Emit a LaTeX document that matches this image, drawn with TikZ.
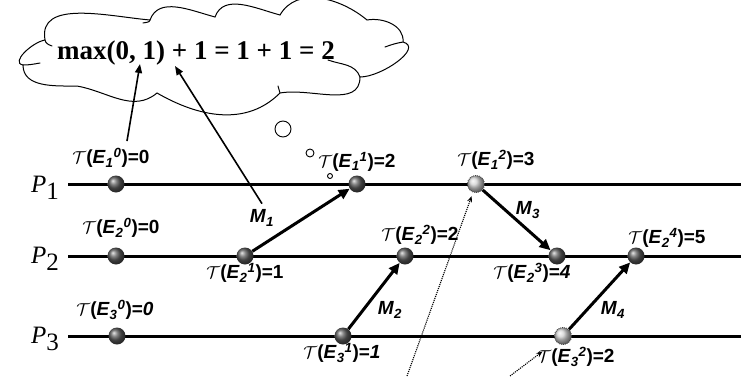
\documentclass[tikz,border=0pt]{standalone}
\usepackage{fontspec}
\setmainfont{Liberation Serif}
\newfontfamily\arialfont{Liberation Sans}
\usetikzlibrary{arrows.meta,positioning,calc}

\newcommand{\tstamp}[3]{$\mathcal{T}$(\textit{E}\textsubscript{\textit{#1}}\textsuperscript{\textit{#2}})=#3}
\newcommand{\procname}[1]{\textit{P}\raisebox{-7pt}{#1}}
\newcommand{\msgname}[1]{\textit{M}\textsubscript{\textit{#1}}}

\begin{document}
\begin{tikzpicture}[x=1pt, y=1pt,
  evt/.style={circle, inner sep=0pt, minimum size=17pt, ball color=gray!70!black},
  ghost/.style={circle, inner sep=0pt, minimum size=17pt, ball color=gray!35, draw=black!75, densely dotted, line width=0.9pt},
  proc/.style={line width=3pt},
  msg/.style={-{Triangle[length=11pt,width=10pt]}, line width=3pt},
  note/.style={-{Triangle[length=9pt,width=7pt]}, line width=1.6pt},
  hint/.style={-{Stealth[length=6pt,width=5pt]}, densely dotted, line width=1.1pt},
  lbl/.style={font=\fontsize{19}{19}\selectfont\arialfont\bfseries, inner sep=0pt},
  pname/.style={font=\fontsize{25}{25}\selectfont, inner sep=0pt},
  puff/.style={line width=1pt, line cap=round},
  bubble/.style={draw, circle, inner sep=0pt, line width=0.9pt}]
\useasboundingbox (0,0) rectangle (741,376);

% thought cloud
\draw[puff] (45,336) to[out=100,in=175] (150,356)
  to[out=70,in=165] (215,359)
  to[out=70,in=165] (280,361)
  to[out=60,in=140] (367,356)
  to[out=10,in=85] (403,334)
  to[out=-15,in=0] (360,299)
  to[out=-90,in=10] (280,283)
  to[out=-135,in=-30] (157,283)
  to[out=-140,in=-10] (77,290)
  to[out=180,in=-90] (23,311)
  to[out=170,in=190] (45,336) -- cycle;
\draw[puff] (45,336) to[out=-80,in=160] (52,330);
\draw[puff] (150,356) to[out=-100,in=20] (143,353);
\draw[puff] (403,334) to[out=-170,in=20] (385,329);
\draw[puff] (360,299) to[out=110,in=-20] (328,316);
\draw[puff] (280,283) to[out=80,in=-100] (278,290);
\draw[puff] (23,311) to[out=0,in=190] (40,313);
\node[font=\fontsize{27}{27}\selectfont\bfseries] (sum) at (196,323) {max(0, 1) + 1 = 1 + 1 = 2};
\node[bubble, minimum size=16pt] (bub1) at (283,247) {};
\node[bubble, minimum size=8pt] (bub2) at (310,223) {};
\node[bubble, minimum size=5pt] (bub3) at (330,200) {};

% processes
\node[pname] (p1) at (45,188) {\procname{1}};
\node[pname] (p2) at (45,117) {\procname{2}};
\node[pname] (p3) at (45,37) {\procname{3}};
\coordinate (s1) at (68,192);  \coordinate (t1) at (741,192);
\coordinate (s2) at (68,120);  \coordinate (t2) at (741,120);
\coordinate (s3) at (68,40);   \coordinate (t3) at (741,40);
\draw[proc] (s1) -- (t1);
\draw[proc] (s2) -- (t2);
\draw[proc] (s3) -- (t3);

% events
\node[evt] (e10) at (116,192) {};
\node[evt] (e11) at (357,192) {};
\node[ghost] (e12) at (476,192) {};
\node[evt] (e20) at (116,120) {};
\node[evt] (e21) at (245,120) {};
\node[evt] (e22) at (405,120) {};
\node[evt] (e23) at (557,120) {};
\node[evt] (e24) at (636,120) {};
\node[evt] (e30) at (117,40) {};
\node[evt] (e31) at (343,40) {};
\node[ghost] (e32) at (563,40) {};

% timestamps
\node[lbl] (l10) at (111,218) {\tstamp{1}{0}{0}};
\node[lbl] (l11) at (357,214) {\tstamp{1}{1}{2}};
\node[lbl] (l12) at (496,216) {\tstamp{1}{2}{3}};
\node[lbl] (l20) at (121,148) {\tstamp{2}{0}{0}};
\node[lbl] (l21) at (245,103) {\tstamp{2}{1}{1}};
\node[lbl] (l22) at (420,141) {\tstamp{2}{2}{2}};
\node[lbl] (l23) at (532,103) {\tstamp{2}{3}{\textit{4}}};
\node[lbl] (l24) at (667,138) {\tstamp{2}{4}{5}};
\node[lbl] (l30) at (115,66) {\tstamp{3}{0}{\textit{0}}};
\node[lbl] (l31) at (342,23) {\tstamp{3}{1}{\textit{1}}};
\node[lbl] (l32) at (576,19) {\tstamp{3}{2}{2}};

% messages
\draw[msg] (e21) -- (e11);
\draw[msg] (e31) -- (e22);
\draw[msg] (e12) -- (e23);
\draw[msg] (e32) -- (e24);
\node[lbl] (m1) at (262,158) {\msgname{1}};
\node[lbl] (m2) at (390,66) {\msgname{2}};
\node[lbl] (m3) at (528,166) {\msgname{3}};
\node[lbl] (m4) at (613,66) {\msgname{4}};

% pointers into the sum
\coordinate (one) at (140,312);
\coordinate (plus) at (175,310);
\draw[note] ([shift={(16pt,7pt)}]l10.north) -- (one);
\draw[note] ([yshift=6pt]m1.north) -- (plus);

% dotted hints from below
\coordinate (h1) at (407,0);
\coordinate (h2) at (510,0);
\draw[hint, shorten >=4pt] (h1) -- (e12);
\draw[hint, shorten >=17pt] (h2) -- (e32);
\end{tikzpicture}
\end{document}
